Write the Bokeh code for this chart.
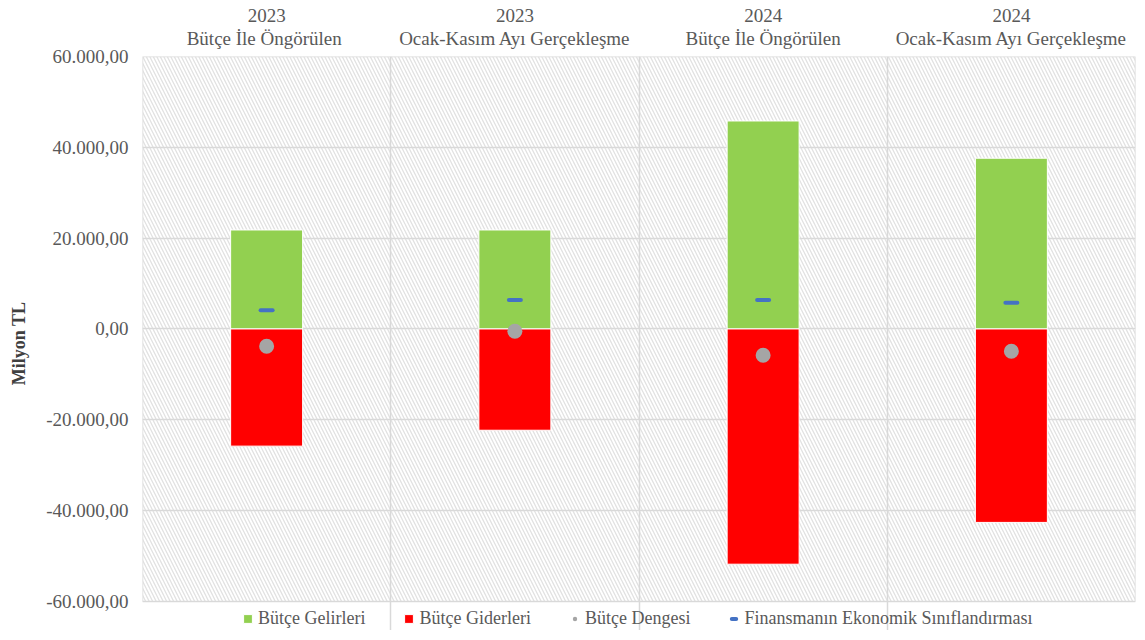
from bokeh.plotting import figure
from bokeh.models import FixedTicker, Legend, LegendItem, ColumnDataSource
from bokeh.embed import file_html
from bokeh.resources import INLINE

categories = ["2023\nBütçe  İle Öngörülen", "2023\nOcak-Kasım Ayı Gerçekleşme",
              "2024\nBütçe İle Öngörülen", "2024\nOcak-Kasım Ayı Gerçekleşme"]
gelir = [21800, 21800, 45800, 37600]
gider = [-25800, -22300, -51800, -42600]
denge = [-3800, -500, -5800, -4900]
finansman = [4100, 6400, 6400, 5800]
y_ticks = [-60000, -40000, -20000, 0, 20000, 40000, 60000]
y_tick_labels = ["-60.000,00", "-40.000,00", "-20.000,00", "0,00", "20.000,00", "40.000,00", "60.000,00"]
y_min, y_max = -60000, 60000

xs = [i + 0.5 for i in range(len(categories))]
src = ColumnDataSource(dict(x=xs, gelir=gelir, gider=gider, denge=denge, fin=finansman,
                            zero=[0] * len(xs)))

# frame extends below -60000 to leave room for the legend strip
p = figure(width=1137, height=630, output_backend="svg", toolbar_location=None,
           x_range=(0, len(categories)), y_range=(-66400, 60000),
           x_axis_location="above",
           min_border_left=142, min_border_right=2, min_border_top=56, min_border_bottom=0)

# hatched plot area with outline
bg = p.quad(left=[0], right=[len(categories)], bottom=[y_min], top=[y_max],
            fill_color="white", line_color="#d9d9d9", line_width=1.5,
            hatch_pattern="\\", hatch_color="#e2e2e2",
            hatch_scale=7, hatch_weight=1.3, level="image")

r_g = p.vbar(x="x", width=0.29, bottom="zero", top="gelir", source=src, fill_color="#92d050",
             line_color="white", line_width=1)
r_r = p.vbar(x="x", width=0.29, bottom="gider", top="zero", source=src, fill_color="#ff0000",
             line_color="white", line_width=1)
r_d = p.scatter(x="x", y="denge", source=src, size=15, marker="circle", fill_color="#a5a5a5",
                line_color=None)
r_f = p.scatter(x="x", y="fin", source=src, size=12, marker="dash", line_color="#4472c4",
                line_width=4, line_cap="round")

p.xaxis.ticker = FixedTicker(ticks=xs)
p.xaxis.major_label_overrides = {x: c for x, c in zip(xs, categories)}
p.xaxis.major_label_text_font = "Liberation Serif"
p.xaxis.major_label_text_font_size = "19px"
p.xaxis.major_label_text_line_height = 1.05
p.xaxis.major_label_text_color = "#595959"
p.xaxis.major_label_standoff = 8
p.xaxis.axis_line_color = None
p.xaxis.major_tick_line_color = None
p.xaxis.minor_tick_line_color = None
p.xaxis.major_tick_out = 0
p.xaxis.major_tick_in = 0

p.yaxis.ticker = FixedTicker(ticks=y_ticks)
p.yaxis.major_label_overrides = {t: l for t, l in zip(y_ticks, y_tick_labels)}
p.yaxis.major_label_text_font = "Liberation Serif"
p.yaxis.major_label_text_font_size = "19px"
p.yaxis.major_label_text_color = "#595959"
p.yaxis.major_label_standoff = 14
p.yaxis.axis_line_color = None
p.yaxis.major_tick_line_color = None
p.yaxis.minor_tick_line_color = None
p.yaxis.major_tick_out = 0
p.yaxis.major_tick_in = 0
p.yaxis.axis_label = "Milyon TL"
p.yaxis.axis_label_text_font = "Liberation Serif"
p.yaxis.axis_label_text_font_size = "18px"
p.yaxis.axis_label_text_font_style = "bold"
p.yaxis.axis_label_text_color = "#404040"
p.yaxis.axis_label_standoff = 14

p.xgrid.ticker = FixedTicker(ticks=[1, 2, 3])
p.xgrid.grid_line_color = "#d9d9d9"
p.xgrid.grid_line_width = 1.5
p.xgrid.bounds = (y_min, y_max)
p.ygrid.ticker = FixedTicker(ticks=y_ticks[1:-1])
p.ygrid.grid_line_color = "#d9d9d9"
p.ygrid.grid_line_width = 1.5
p.outline_line_color = None

legend = Legend(items=[LegendItem(label="Bütçe Gelirleri", renderers=[r_g]),
                       LegendItem(label="Bütçe Giderleri", renderers=[r_r]),
                       LegendItem(label="Bütçe Dengesi", renderers=[r_d]),
                       LegendItem(label="Finansmanın Ekonomik Sınıflandırması", renderers=[r_f])],
                orientation="horizontal", location=(100, 1),
                label_text_font="Liberation Serif", label_text_font_size="18px",
                label_text_line_height=1.0, label_height=16,
                label_text_color="#595959", glyph_width=11, glyph_height=11,
                spacing=38, padding=2, margin=0, label_standoff=5, border_line_color=None,
                background_fill_alpha=0)
p.add_layout(legend, "center")

open("out.html", "w").write(file_html(p, INLINE))
